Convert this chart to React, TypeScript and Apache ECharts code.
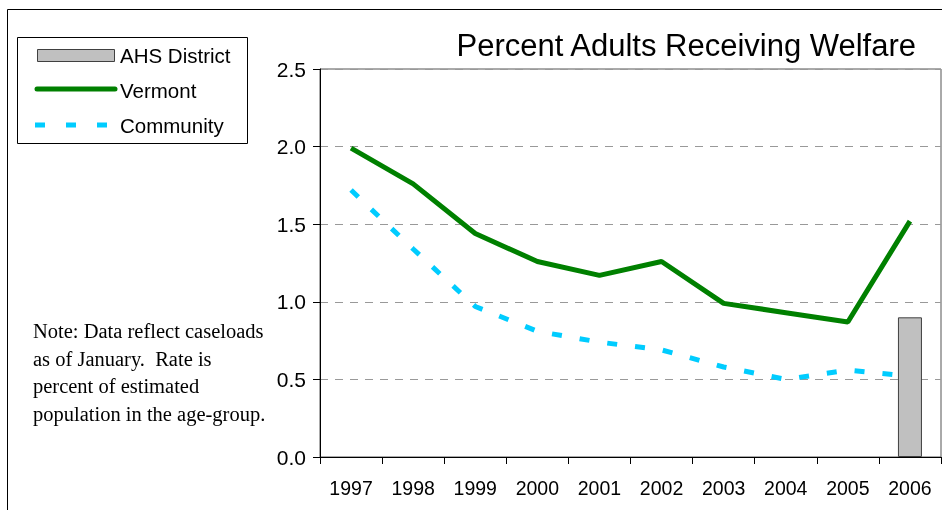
import React, { useEffect, useRef } from 'react';
import * as echarts from 'echarts';

const years = ['1997', '1998', '1999', '2000', '2001', '2002', '2003', '2004', '2005', '2006'];
const ahsDistrict = [null, null, null, null, null, null, null, null, null, 0.9];
const vermont = [1.99, 1.76, 1.44, 1.26, 1.17, 1.26, 0.99, 0.93, 0.87, 1.52];
const community = [1.72, 1.34, 0.97, 0.81, 0.74, 0.69, 0.58, 0.5, 0.56, 0.52];
const seriesNames = ['AHS District', 'Vermont', 'Community'];
const yMin = 0;
const yMax = 2.5;
const yInterval = 0.5;
const titleText = 'Percent Adults Receiving Welfare';
const noteLines = [
  'Note: Data reflect caseloads',
  'as of January.  Rate is',
  'percent of estimated',
  'population in the age-group.',
];

const SANS = '"Liberation Sans", Arial, sans-serif';
const SERIF = '"Liberation Serif", "Times New Roman", serif';
const GREEN = '#008000';
const CYAN = '#00CCFF';
const BAR = '#C0C0C0';

export default function App() {
  const ref = useRef<HTMLDivElement>(null);

  useEffect(() => {
    const chart = echarts.init(ref.current!, null, { renderer: 'svg' });
    chart.setOption({
      animation: false,
      textStyle: { fontFamily: SANS },
      grid: {
        left: 320,
        right: 1,
        top: 69,
        bottom: 53,
        show: true,
        borderColor: '#555',
        borderWidth: 1,
        backgroundColor: 'transparent',
      },
      xAxis: {
        type: 'category',
        data: years,
        boundaryGap: true,
        axisLine: { show: true, lineStyle: { color: '#000', width: 1 } },
        axisTick: { show: true, length: 7, alignWithLabel: false, lineStyle: { color: '#000' } },
        axisLabel: { fontSize: 19.5, color: '#000', margin: 21, fontFamily: SANS },
        splitLine: { show: false },
      },
      yAxis: {
        type: 'value',
        min: yMin,
        max: yMax,
        interval: yInterval,
        axisLine: { show: true, lineStyle: { color: '#000', width: 1 } },
        axisTick: { show: true, length: 7, lineStyle: { color: '#000' } },
        axisLabel: {
          fontSize: 21,
          color: '#000',
          margin: 14,
          fontFamily: SANS,
          formatter: (v: number) => v.toFixed(1),
        },
        splitLine: { show: true, lineStyle: { color: '#999', type: [8, 7], width: 1 } },
      },
      series: [
        {
          name: seriesNames[0],
          type: 'bar',
          data: ahsDistrict,
          barWidth: 24,
          itemStyle: { color: BAR, borderColor: '#404040', borderWidth: 1 },
          z: 1,
        },
        {
          name: seriesNames[1],
          type: 'line',
          data: vermont,
          symbol: 'none',
          lineStyle: { color: GREEN, width: 5 },
          itemStyle: { color: GREEN },
          z: 3,
        },
        {
          name: seriesNames[2],
          type: 'line',
          data: community,
          symbol: 'none',
          lineStyle: { color: CYAN, width: 5, type: [10, 18], cap: 'butt' },
          itemStyle: { color: CYAN },
          z: 2,
        },
      ],
      graphic: [
        {
          type: 'rect',
          shape: { x: 7.5, y: 9.5, width: 1200, height: 800 },
          style: { fill: 'none', stroke: '#000', lineWidth: 1 },
          silent: true,
          z: -1,
        },
        {
          type: 'text',
          x: 916,
          y: 45,
          style: {
            text: titleText,
            fill: '#000',
            fontSize: 31,
            fontFamily: SANS,
            align: 'right',
            verticalAlign: 'middle',
          },
        },
        {
          type: 'rect',
          shape: { x: 17.5, y: 37.5, width: 230, height: 106 },
          style: { fill: '#fff', stroke: '#000', lineWidth: 1 },
        },
        {
          type: 'rect',
          shape: { x: 37.5, y: 49.5, width: 77, height: 12 },
          style: { fill: BAR, stroke: '#404040', lineWidth: 1 },
        },
        {
          type: 'line',
          shape: { x1: 37, y1: 89, x2: 115, y2: 89 },
          style: { stroke: GREEN, lineWidth: 5, lineCap: 'round' },
        },
        {
          type: 'line',
          shape: { x1: 35, y1: 125, x2: 107, y2: 125 },
          style: { stroke: CYAN, lineWidth: 5, lineDash: [10, 21], lineCap: 'butt' },
        },
        {
          type: 'text',
          x: 120,
          y: 55,
          style: { text: seriesNames[0], fill: '#000', fontSize: 20.5, fontFamily: SANS, verticalAlign: 'middle' },
        },
        {
          type: 'text',
          x: 120,
          y: 90,
          style: { text: seriesNames[1], fill: '#000', fontSize: 20.5, fontFamily: SANS, verticalAlign: 'middle' },
        },
        {
          type: 'text',
          x: 120,
          y: 125,
          style: { text: seriesNames[2], fill: '#000', fontSize: 20.5, fontFamily: SANS, verticalAlign: 'middle' },
        },
        {
          type: 'text',
          x: 33,
          y: 317,
          style: {
            text: noteLines.join('\n'),
            fill: '#000',
            fontSize: 20.5,
            lineHeight: 27.7,
            fontFamily: SERIF,
            verticalAlign: 'top',
          },
        },
      ],
    });
    return () => chart.dispose();
  }, []);

  return (
    <div
      ref={ref}
      style={{ position: 'fixed', left: 0, top: 0, width: 942, height: 510 }}
    />
  );
}
